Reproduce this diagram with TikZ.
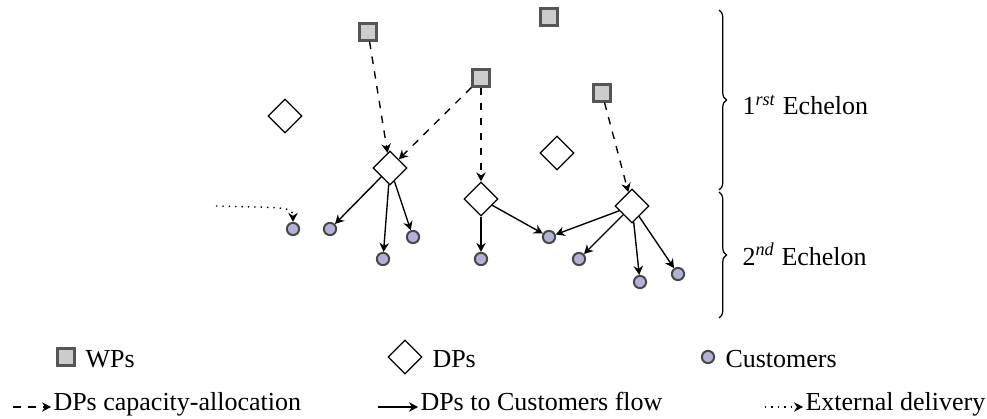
\documentclass[tikz,border=0pt]{standalone}
\usepackage{fontspec}
\setmainfont{Liberation Serif}
\usetikzlibrary{shapes.geometric,decorations.pathreplacing,arrows.meta}
\definecolor{wpfill}{RGB}{204,204,204}
\definecolor{wpdraw}{RGB}{85,85,85}
\definecolor{cufill}{RGB}{178,178,216}
\definecolor{cudraw}{RGB}{70,70,70}
\begin{document}
\begin{tikzpicture}[x=0.4pt,y=-0.4pt,
  font=\fontsize{10.4}{12.5}\selectfont,
  wp/.style={rectangle,draw=wpdraw,fill=wpfill,line width=0.9pt,minimum size=6.8pt,inner sep=0pt},
  dp/.style={diamond,draw,fill=white,line width=0.5pt,minimum width=13.6pt,minimum height=13.6pt,inner sep=0pt},
  cu/.style={circle,draw=cudraw,fill=cufill,line width=0.8pt,minimum size=4.9pt,inner sep=0pt},
  tip/.style={-{Stealth[length=3.6pt,width=3.8pt,inset=1.2pt]}},
  alloc/.style={tip,dashed,line width=0.55pt},
  flow/.style={tip,line width=0.55pt},
  extd/.style={tip,dotted,line width=0.55pt},
  lab/.style={anchor=base west,inner sep=0pt},
  bracestyle/.style={decorate,decoration={brace,amplitude=3pt},line width=0.5pt}]
\useasboundingbox (0,0) rectangle (987,419);

% WPs
\node[wp] (W1) at (368,32) {};
\node[wp] (W2) at (549,17) {};
\node[wp] (W3) at (481,78) {};
\node[wp] (W4) at (602,93) {};

% DPs
\node[dp] (D0) at (285,116) {};
\node[dp] (D1) at (390,168) {};
\node[dp] (D2) at (481,199) {};
\node[dp] (D3) at (557,153) {};
\node[dp] (D4) at (632,206) {};

% Customers
\node[cu] (C1) at (293,229) {};
\node[cu] (C2) at (330,229) {};
\node[cu] (C3) at (383,259) {};
\node[cu] (C4) at (413,237) {};
\node[cu] (C5) at (481,259) {};
\node[cu] (C6) at (549,237) {};
\node[cu] (C7) at (579,259) {};
\node[cu] (C8) at (640,282) {};
\node[cu] (C9) at (678,274) {};

% capacity allocation
\draw[alloc] (W1) -- (D1);
\draw[alloc] (W3) -- (D1);
\draw[alloc] (W3) -- (D2);
\draw[alloc] (W4) -- (D4);

% flows
\draw[flow] (D1) -- (C2);
\draw[flow] (D1) -- (C3);
\draw[flow] (D1) -- (C4);
\draw[flow] (D2) -- (C5);
\draw[flow] (D2) -- (C6);
\draw[flow] (D4) -- (C6);
\draw[flow] (D4) -- (C7);
\draw[flow] (D4) -- (C8);
\draw[flow] (D4) -- (C9);

% external delivery
\coordinate (X0) at (216,206);
\draw[extd] (X0) .. controls (282,208) and (293,206) .. (C1);

% braces
\coordinate (B1t) at (719,10);
\coordinate (B1b) at (719,190);
\coordinate (B2t) at (719,192);
\coordinate (B2b) at (719,318);
\draw[bracestyle] (B1t) -- (B1b);
\draw[bracestyle] (B2t) -- (B2b);
\node[lab] (E1) at (742,115) {1\textsuperscript{\textit{rst}} Echelon};
\node[lab] (E2) at (742,265) {2\textsuperscript{\textit{nd}} Echelon};

% legend row 1
\node[wp] (LW) at (66,357) {};
\node[lab] (LWt) at (85,367) {WPs};
\node[dp] (LD) at (405,357) {};
\node[lab] (LDt) at (432,367) {DPs};
\node[cu] (LC) at (708,357) {};
\node[lab] (LCt) at (725,367) {Customers};

% legend row 2
\coordinate (LAs) at (13,407);
\coordinate (LAe) at (51,407);
\draw[alloc] (LAs) -- (LAe);
\node[lab] (LAt) at (53,410) {DPs capacity-allocation};
\coordinate (LFs) at (378,407);
\coordinate (LFe) at (418,407);
\draw[flow] (LFs) -- (LFe);
\node[lab] (LFt) at (420,410) {DPs to Customers flow};
\coordinate (LXs) at (765,407);
\coordinate (LXe) at (803,407);
\draw[extd] (LXs) -- (LXe);
\node[lab] (LXt) at (805,410) {External delivery};
\end{tikzpicture}
\end{document}
